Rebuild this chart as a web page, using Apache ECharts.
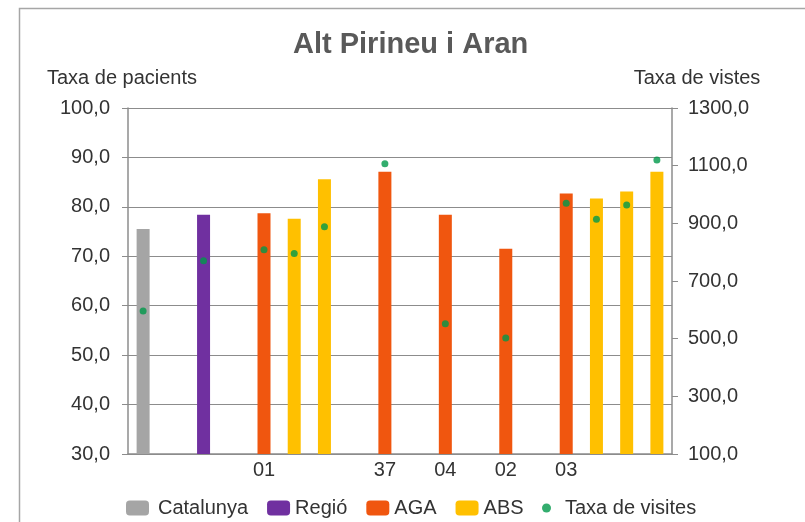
<!DOCTYPE html>
<html>
<head>
<meta charset="utf-8">
<title>Alt Pirineu i Aran</title>
<script src="https://cdn.jsdelivr.net/npm/echarts@6/dist/echarts.min.js"></script>
<style>
    html, body { margin: 0; padding: 0; background: #fff; }
    #chart { width: 805px; height: 522px; }
</style>
</head>
<body>
<div id="chart"></div>
<script>
// Slots along the x axis (empty names are gaps / unlabelled ABS bars)
const categories = ['', '', '', '', '01', '', '', '', '37', '', '04', '', '02', '', '03', '', '', ''];

// Taxa de pacients (left axis)
const catalunya = [75.5, null, null, null, null, null, null, null, null, null, null, null, null, null, null, null, null, null];
const regio     = [null, null, 78.4, null, null, null, null, null, null, null, null, null, null, null, null, null, null, null];
const aga       = [null, null, null, null, 78.7, null, null, null, 87.1, null, 78.4, null, 71.5, null, 82.7, null, null, null];
const abs       = [null, null, null, null, null, 77.6, 85.6, null, null, null, null, null, null, null, null, 81.7, 83.1, 87.1];

// Taxa de visites (right axis)
const visites   = [596, null, 770, null, 808, 795, 888, null, 1107, null, 552, null, 502, null, 970, 914, 964, 1120];

const textColor = '#333';
const axisColor = '#8c8c8c';
const fontFamily = 'Liberation Sans, Arial, sans-serif';

function fmt(v) {
    return v.toFixed(1).replace('.', ',');
}

function barSeries(name, data, color) {
    return {
        name: name,
        type: 'bar',
        data: data,
        barWidth: 13,
        barGap: '-100%',
        itemStyle: { color: color }
    };
}

document.addEventListener('DOMContentLoaded', function() {
    const chart = echarts.init(document.getElementById('chart'));

    chart.setOption({
        animation: false,
        textStyle: { fontFamily: fontFamily },
        title: {
            text: 'Alt Pirineu i Aran',
            left: 288,
            top: 25,
            textStyle: { fontSize: 29, fontWeight: 'bold', color: '#595959', fontFamily: fontFamily }
        },
        // outer frame, only its top and left edges fall inside the picture
        graphic: [{
            type: 'rect',
            shape: { x: 19.5, y: 8.5, width: 900, height: 600 },
            style: { fill: 'none', stroke: '#a6a6a6', lineWidth: 1.5 },
            silent: true
        }],
        legend: [{
            data: [
                { name: 'Catalunya', textStyle: { padding: [0, 0, 0, 4] } },
                'Regió', 'AGA', 'ABS'
            ],
            left: 121,
            top: 493,
            itemWidth: 23,
            itemHeight: 15,
            itemGap: 19,
            textStyle: { fontSize: 20, color: textColor }
        }, {
            data: ['Taxa de visites'],
            left: 537,
            top: 493,
            itemWidth: 9,
            itemHeight: 9,
            textStyle: { fontSize: 20, color: textColor, padding: [0, 0, 0, 9] }
        }],
        grid: { left: 128, right: 133, top: 108, bottom: 68 },
        xAxis: {
            type: 'category',
            data: categories,
            axisLine: { lineStyle: { color: axisColor, width: 1.5 } },
            axisTick: { show: false },
            axisLabel: { interval: 0, fontSize: 20, color: textColor, margin: 6 }
        },
        yAxis: [{
            type: 'value',
            name: 'Taxa de pacients',
            nameGap: 20,
            nameTextStyle: { fontSize: 20, color: textColor, padding: [0, 12, 0, 0] },
            min: 30,
            max: 100,
            interval: 10,
            axisLine: { show: true, lineStyle: { color: axisColor, width: 1.5 } },
            axisTick: { show: true, length: 6, lineStyle: { color: axisColor } },
            axisLabel: { fontSize: 20, color: textColor, margin: 18, formatter: fmt },
            splitLine: { lineStyle: { color: axisColor, width: 1.2 } }
        }, {
            type: 'value',
            name: 'Taxa de vistes',
            nameGap: 20,
            nameTextStyle: { fontSize: 20, color: textColor, padding: [0, 0, 0, 50] },
            min: 100,
            max: 1300,
            interval: 200,
            position: 'right',
            axisLine: { show: true, lineStyle: { color: axisColor, width: 1.5 } },
            axisTick: { show: true, length: 6, lineStyle: { color: axisColor } },
            axisLabel: { fontSize: 20, color: textColor, margin: 16, formatter: fmt },
            splitLine: { show: false }
        }],
        series: [
            barSeries('Catalunya', catalunya, '#a5a5a5'),
            barSeries('Regió', regio, '#7030a0'),
            barSeries('AGA', aga, '#f0560f'),
            barSeries('ABS', abs, '#ffc000'),
            {
                name: 'Taxa de visites',
                type: 'scatter',
                yAxisIndex: 1,
                data: visites,
                symbol: 'circle',
                symbolSize: 7,
                itemStyle: { color: '#00994a' },
                z: 5
            }
        ]
    });
});
</script>
</body>
</html>
